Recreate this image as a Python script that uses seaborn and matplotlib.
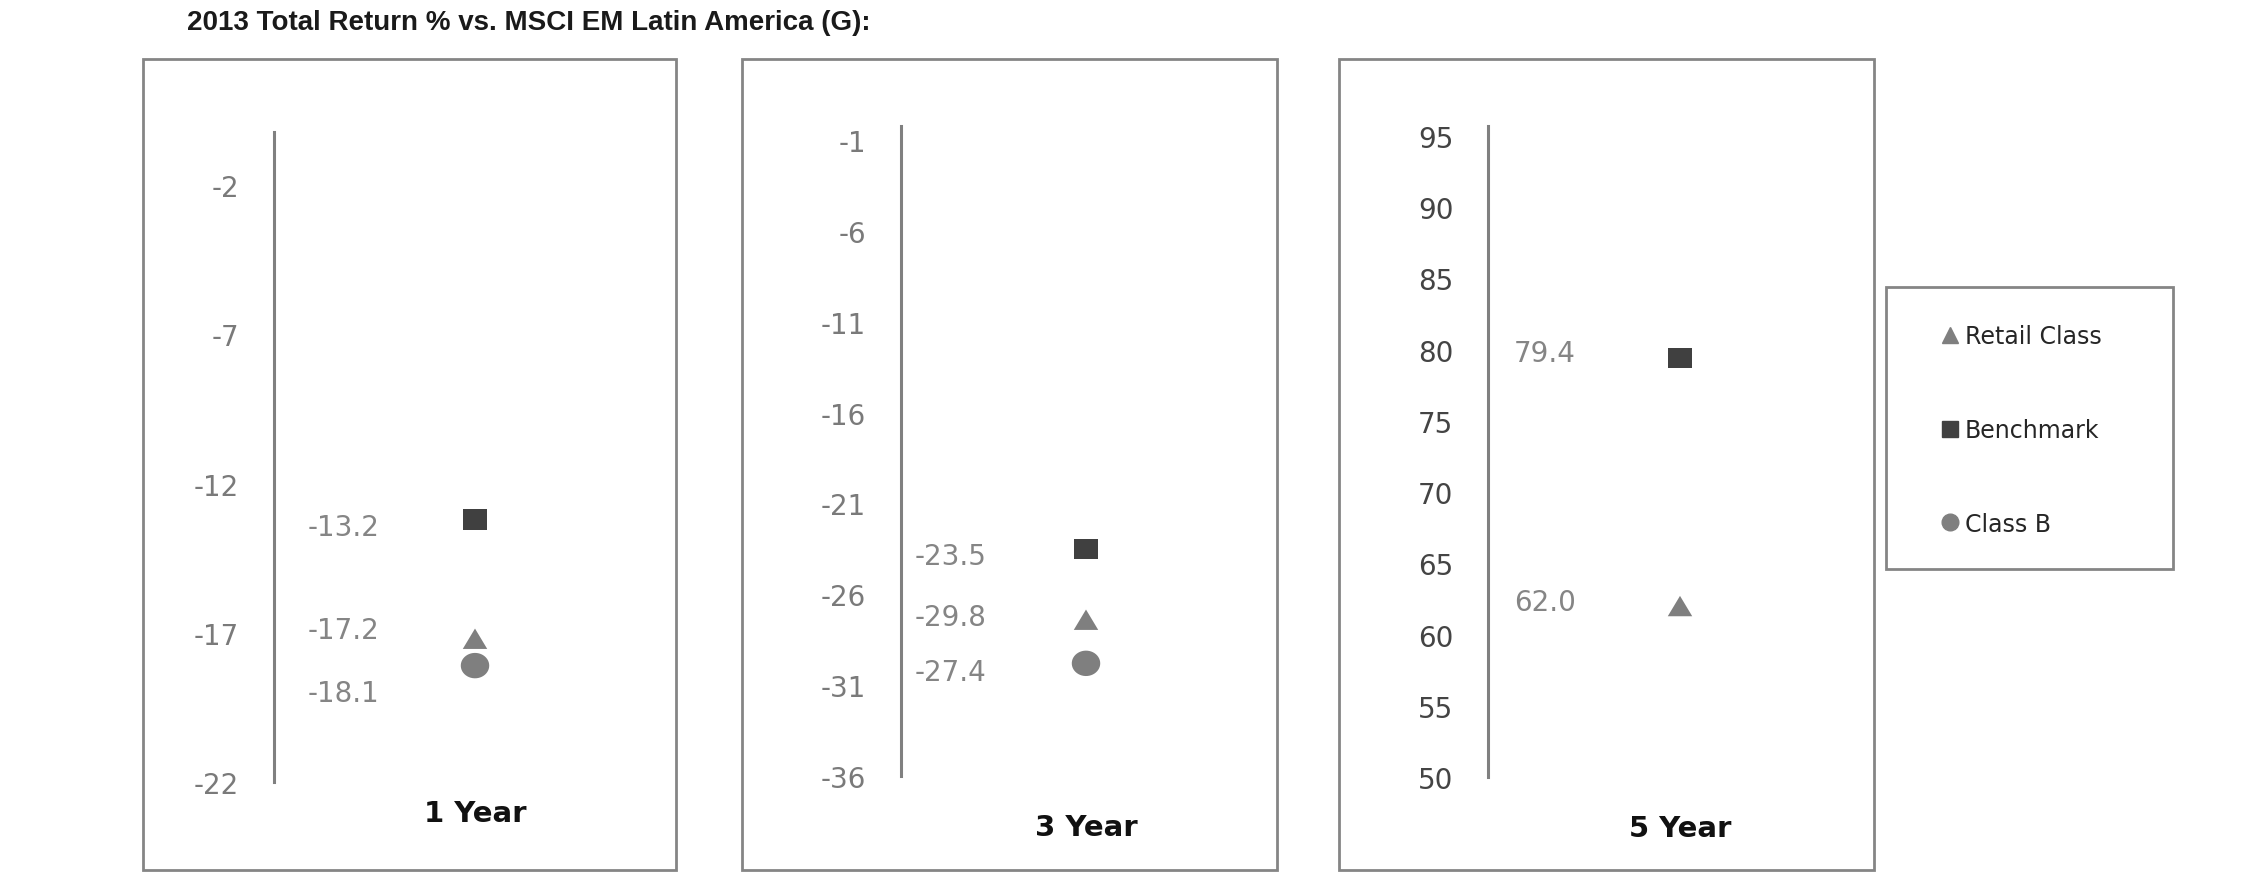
import numpy as np
import pandas as pd
import matplotlib
matplotlib.use("Agg")
import matplotlib.pyplot as plt
from matplotlib.patches import Rectangle
from matplotlib.lines import Line2D
from matplotlib import font_manager
import seaborn as sns

# ---------------- data ----------------
periods = ["1 Year", "3 Year", "5 Year"]
series = ["Retail Class", "Benchmark", "Class B"]
retail_class = [-17.2, -27.4, 62.0]
benchmark = [-13.2, -23.5, 79.4]
class_b = [-18.1, -29.8, np.nan]
# data labels exactly as printed in the chart
retail_labels = ["-17.2", "-29.8", "62.0"]
benchmark_labels = ["-13.2", "-23.5", "79.4"]
class_b_labels = ["-18.1", "-27.4", ""]
# y axes
y_ticks = {
    "1 Year": [-22, -17, -12, -7, -2],
    "3 Year": [-36, -31, -26, -21, -16, -11, -6, -1],
    "5 Year": [50, 55, 60, 65, 70, 75, 80, 85, 90, 95],
}
y_limits = {"1 Year": (-22, -0.22), "3 Year": (-36, -0.23), "5 Year": (50, 95.7)}
title = "2013 Total Return % vs. MSCI EM Latin America (G):"

rows = []
for i, p in enumerate(periods):
    for s, vals, labs in [("Retail Class", retail_class, retail_labels),
                          ("Benchmark", benchmark, benchmark_labels),
                          ("Class B", class_b, class_b_labels)]:
        rows.append({"period": p, "series": s, "value": vals[i], "label": labs[i]})
df = pd.DataFrame(rows).dropna(subset=["value"])

# ---------------- style ----------------
sns.set_style("white")
plt.rcParams["font.family"] = ["DejaVu Sans"]
plt.rcParams["axes.unicode_minus"] = False

W, H = 2250, 895
fig = plt.figure(figsize=(W / 100, H / 100), dpi=100)


def frect(l, t, r, b):
    return [l / W, 1 - b / H, (r - l) / W, (b - t) / H]


# slightly widened marker shapes (the source image is horizontally stretched)
sq = np.array([[-1.15, -1], [1.15, -1], [1.15, 1], [-1.15, 1], [-1.15, -1]])
tri = np.array([[-1.2, -1], [1.2, -1], [0, 1], [-1.2, -1]])
th = np.linspace(0, 2 * np.pi, 48)
ell = np.column_stack([1.12 * np.cos(th), np.sin(th)])

markers = {"Retail Class": tri, "Benchmark": sq, "Class B": ell}
palette = {"Retail Class": "#7f7f7f", "Benchmark": "#404040", "Class B": "#7f7f7f"}
sizes = {"Retail Class": 310, "Benchmark": 290, "Class B": 420}

axes_rects = {
    "1 Year": frect(274, 133, 676, 783),
    "3 Year": frect(901, 127, 1271, 777),
    "5 Year": frect(1488, 127, 1872, 778),
}
boxes = {
    "1 Year": (143, 60, 676, 871),
    "3 Year": (742, 60, 1277, 871),
    "5 Year": (1339, 60, 1874, 871),
}
xlabel_pad = {"1 Year": 12, "3 Year": 27, "5 Year": 27}
tick_color = {"1 Year": "#7a7a7a", "3 Year": "#7a7a7a", "5 Year": "#444444"}
label_x = {"1 Year": -0.326, "3 Year": -0.365, "5 Year": -0.352}
# vertical nudges (points) of the data labels: Retail, Benchmark, Class B
label_dy = {
    "1 Year": {"Retail Class": 6.5, "Benchmark": -5.5, "Class B": -20},
    "3 Year": {"Retail Class": 2, "Benchmark": -5, "Class B": -6.5},
    "5 Year": {"Retail Class": 3, "Benchmark": 4, "Class B": 0},
}

for p in periods:
    l, t, r, b = boxes[p]
    fig.add_artist(Rectangle((l / W, 1 - b / H), (r - l) / W, (b - t) / H,
                             transform=fig.transFigure, fill=False,
                             edgecolor="#858585", linewidth=2.0, zorder=0))
    ax = fig.add_axes(axes_rects[p])
    sub = df[df["period"] == p]
    sns.scatterplot(data=sub, x="period", y="value", hue="series", style="series",
                    size="series", markers=markers, palette=palette, sizes=sizes,
                    linewidth=0, legend=False, ax=ax, zorder=3)
    ax.set_xlim(-0.5, 0.5)
    ax.set_ylim(*y_limits[p])
    ax.set_yticks(y_ticks[p])
    ax.set_yticklabels([str(v) for v in y_ticks[p]])
    ax.set_xlabel("")
    ax.set_ylabel("")
    for sp in ["top", "right", "bottom"]:
        ax.spines[sp].set_visible(False)
    ax.spines["left"].set_color("#808080")
    ax.spines["left"].set_linewidth(2.2)
    ax.tick_params(axis="y", direction="out", length=9, width=2, color="#b0b0b0",
                   labelsize=20, labelcolor=tick_color[p], pad=16)
    ax.tick_params(axis="x", length=0, labelsize=21, pad=xlabel_pad[p])
    for tl in ax.get_xticklabels():
        tl.set_fontweight("bold")
        tl.set_color("#111111")
    ax.set_facecolor("none")
    for _, row in sub.iterrows():
        if row["label"]:
            ax.annotate(row["label"], xy=(label_x[p], row["value"]),
                        xytext=(0, label_dy[p][row["series"]]), textcoords="offset points",
                        ha="center", va="center", fontsize=20, color="#858585")

# title
names = {f.name for f in font_manager.fontManager.ttflist}
if "Liberation Sans Narrow" in names:
    fig.text(187 / W, 1 - 23 / H, title, fontsize=24, fontweight="bold",
             family="Liberation Sans Narrow", color="#1a1a1a", va="center", ha="left")
else:
    fig.text(187 / W, 1 - 23 / H, title, fontsize=20, fontweight="bold",
             family="Liberation Sans", color="#1a1a1a", va="center", ha="left")

# legend box
fig.add_artist(Rectangle((1886 / W, 1 - 570 / H), (2173 - 1886) / W, (570 - 288) / H,
                         transform=fig.transFigure, fill=False,
                         edgecolor="#858585", linewidth=2.0))
handles = [
    Line2D([], [], linestyle="none", marker="^", markersize=12, color="#7f7f7f"),
    Line2D([], [], linestyle="none", marker="s", markersize=11, color="#404040"),
    Line2D([], [], linestyle="none", marker="o", markersize=12, color="#7f7f7f"),
]
fig.legend(handles, series, loc="center", bbox_to_anchor=(2021 / W, 1 - 431 / H),
           frameon=False, fontsize=17, labelspacing=2.95, handlelength=0.8,
           handletextpad=0.25, borderpad=0)

fig.savefig("out.png", dpi=100, facecolor="white")
